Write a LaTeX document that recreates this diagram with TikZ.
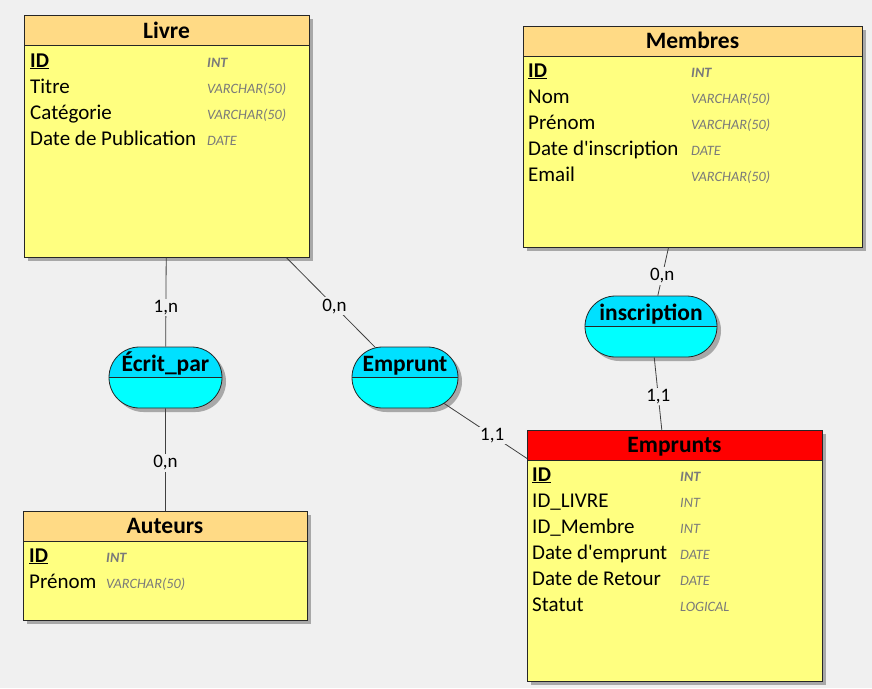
\documentclass[tikz,border=0pt]{standalone}
\usepackage{fontspec}
\setmainfont{Carlito}
\usetikzlibrary{shapes.misc,shadows}
\definecolor{fond}{HTML}{F0F0F0}
\definecolor{corps}{HTML}{FFFF80}
\definecolor{entete}{HTML}{FFDA85}
\definecolor{rouge}{HTML}{FF0000}
\definecolor{cyanhaut}{HTML}{00E0FF}
\definecolor{cyanbas}{HTML}{00FFFF}
\definecolor{ombre}{HTML}{A8A8A8}
\definecolor{typegris}{HTML}{7A7A7A}
\tikzset{
  entite/.style={draw=black!85, line width=0.8pt, fill=corps, anchor=north west, inner sep=0pt,
    drop shadow={shadow xshift=4pt, shadow yshift=-4pt, fill=ombre, opacity=1},
    path picture={
      \fill[#1] (path picture bounding box.north west) rectangle ([yshift=-30pt]path picture bounding box.north east);
      \draw[black!85, line width=0.8pt] ([yshift=-30pt]path picture bounding box.north west) -- ([yshift=-30pt]path picture bounding box.north east);
    }},
  entite/.default=entete,
  relation/.style={rounded rectangle, draw=black!85, line width=0.8pt, fill=cyanbas, inner sep=0pt,
    minimum height=61pt,
    drop shadow={shadow xshift=4pt, shadow yshift=-4pt, fill=ombre, opacity=1},
    path picture={
      \fill[cyanhaut] (path picture bounding box.north west) rectangle (path picture bounding box.east);
      \draw[black!85, line width=0.8pt] (path picture bounding box.west) -- (path picture bounding box.east);
    }},
  titre/.style={anchor=base, inner sep=0pt, font=\fontsize{23.5}{26}\selectfont\bfseries},
  attr/.style={anchor=base west, inner sep=0pt, font=\fontsize{21}{24}\selectfont},
  typ/.style={anchor=base west, inner sep=0pt, text=typegris, font=\fontsize{14.3}{16}\selectfont\itshape},
  cle/.style={typ, font=\fontsize{14.3}{16}\selectfont\itshape\bfseries},
  card/.style={fill=fond, inner sep=1.5pt, font=\fontsize{19}{22}\selectfont},
  lien/.style={draw=black!75, line width=0.8pt}
}
\begin{document}
\begin{tikzpicture}[x=1pt,y=-1pt]
\path[use as bounding box, fill=fond] (0,0) rectangle (872,688);
%
% Livre
\node[entite, minimum width=285pt, minimum height=242pt] (livre) at (24,15) {};
\node[titre] (livreT) at (166.5,38) {Livre};
\node[attr] (livre0) at (30,67) {\textbf{\underline{ID}}};
\node[cle] (livre0t) at (207,67) {INT};
\node[attr] (livre1) at (30,93) {Titre};
\node[typ] (livre1t) at (207,93) {VARCHAR(50)};
\node[attr] (livre2) at (30,119) {Catégorie};
\node[typ] (livre2t) at (207,119) {VARCHAR(50)};
\node[attr] (livre3) at (30,145) {Date de Publication};
\node[typ] (livre3t) at (207,145) {DATE};
%
% Membres
\node[entite, minimum width=339pt, minimum height=221pt] (membres) at (523,26) {};
\node[titre] (membresT) at (692.5,48.5) {Membres};
\node[attr] (membres0) at (528,77) {\textbf{\underline{ID}}};
\node[cle] (membres0t) at (691,77) {INT};
\node[attr] (membres1) at (528,103) {Nom};
\node[typ] (membres1t) at (691,103) {VARCHAR(50)};
\node[attr] (membres2) at (528,129) {Prénom};
\node[typ] (membres2t) at (691,129) {VARCHAR(50)};
\node[attr] (membres3) at (528,155) {Date d\textquotesingle inscription};
\node[typ] (membres3t) at (691,155) {DATE};
\node[attr] (membres4) at (528,181) {Email};
\node[typ] (membres4t) at (691,181) {VARCHAR(50)};
%
% Auteurs
\node[entite, minimum width=284pt, minimum height=109pt] (auteurs) at (23,511) {};
\node[titre] (auteursT) at (165,533.5) {Auteurs};
\node[attr] (auteurs0) at (29,562) {\textbf{\underline{ID}}};
\node[cle] (auteurs0t) at (106,562) {INT};
\node[attr] (auteurs1) at (29,588) {Prénom};
\node[typ] (auteurs1t) at (106,588) {VARCHAR(50)};
%
% Emprunts
\node[entite=rouge, minimum width=295pt, minimum height=251pt] (emprunts) at (527,430) {};
\node[titre] (empruntsT) at (674.5,452) {Emprunts};
\node[attr] (emprunts0) at (532,481) {\textbf{\underline{ID}}};
\node[cle] (emprunts0t) at (680,481) {INT};
\node[attr] (emprunts1) at (532,507) {ID\_LIVRE};
\node[typ] (emprunts1t) at (680,507) {INT};
\node[attr] (emprunts2) at (532,533) {ID\_Membre};
\node[typ] (emprunts2t) at (680,533) {INT};
\node[attr] (emprunts3) at (532,559) {Date d\textquotesingle emprunt};
\node[typ] (emprunts3t) at (680,559) {DATE};
\node[attr] (emprunts4) at (532,585) {Date de Retour};
\node[typ] (emprunts4t) at (680,585) {DATE};
\node[attr] (emprunts5) at (532,611) {Statut};
\node[typ] (emprunts5t) at (680,611) {LOGICAL};
%
% associations
\node[relation, minimum width=113pt] (ecrit) at (165.5,377.5) {};
\node[titre] (ecritT) at (165.5,371) {Écrit\_par};
\node[relation, minimum width=106pt] (emprunt) at (405,377.5) {};
\node[titre] (empruntT) at (405,371) {Emprunt};
\node[relation, minimum width=132pt] (inscr) at (651,326.5) {};
\node[titre] (inscrT) at (651,320) {inscription};
%
% liens
\draw[lien] (livre) -- node[card, pos=0.56] {1,n} (ecrit);
\draw[lien] (ecrit) -- node[card, pos=0.53] {0,n} (auteurs);
\draw[lien] (livre) -- node[card, pos=0.54] {0,n} (emprunt);
\draw[lien] (emprunt) -- node[card, pos=0.58] {1,1} (emprunts);
\draw[lien] (membres) -- node[card, pos=0.59] {0,n} (inscr);
\draw[lien] (inscr) -- node[card, pos=0.54] {1,1} (emprunts);
\end{tikzpicture}
\end{document}
